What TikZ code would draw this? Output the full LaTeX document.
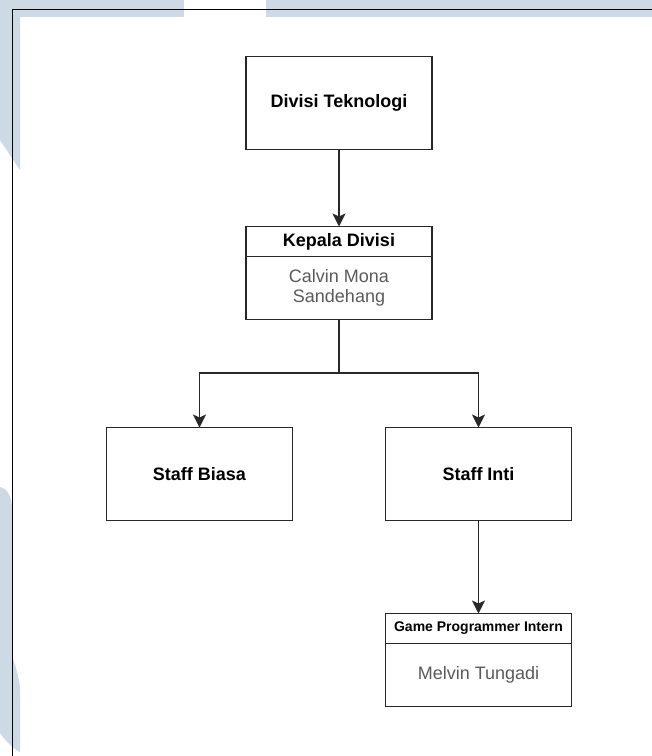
\documentclass[tikz,border=0pt]{standalone}
\usepackage{fontspec}
\setmainfont{Liberation Sans}
\usetikzlibrary{arrows.meta,positioning}
\definecolor{wmblue}{RGB}{205,217,228}
\definecolor{linegray}{RGB}{40,40,40}
\definecolor{namegray}{RGB}{90,90,90}
\tikzset{box/.style={draw=linegray, line width=1.8pt, outer sep=0pt, minimum width=186pt, minimum height=93pt, align=center, inner sep=2pt, font=\fontsize{18}{21}\selectfont\bfseries}, hbox/.style={draw=linegray, line width=1.8pt, outer sep=0pt, minimum width=186pt, minimum height=30pt, align=center, inner sep=1pt, font=\fontsize{18}{21}\selectfont\bfseries}, nbox/.style={draw=linegray, line width=1.8pt, outer sep=0pt, minimum width=186pt, minimum height=63pt, align=center, inner sep=1pt, text=namegray, font=\fontsize{18}{20.5}\selectfont}, edge/.style={-{Stealth[length=13pt,width=13pt,inset=3pt]}, line width=1.8pt, draw=linegray}}

\begin{document}
\begin{tikzpicture}[x=1pt,y=-1pt]
\useasboundingbox (0,0) rectangle (652,756);
% watermark
\fill[wmblue] (0,0) rectangle (184,17);
\fill[wmblue] (266,0) rectangle (652,17);
\fill[wmblue] (0,0) -- (20,0) -- (20,170) -- (0,140) -- cycle;
\fill[wmblue] (0,487) .. controls (8,489) and (12,497) .. (12,510) -- (12,655) .. controls (16,668) and (20,680) .. (20,690) -- (20,752) .. controls (12,748) and (5,740) .. (0,733) -- cycle;
% frame
\draw[line width=1pt] (652,9.5) -- (12.5,9.5) -- (12.5,756);
% boxes
\node[box] (divisi) at (339,103) {Divisi Teknologi};
\node[hbox,below=77pt of divisi] (kepala) {Kepala Divisi};
\node[nbox,below=0pt of kepala] (kepalanama) {Calvin Mona\\Sandehang};
\node[box] (biasa) at (199.5,474) {Staff Biasa};
\node[box,right=93pt of biasa] (inti) {Staff Inti};
\node[hbox,below=93pt of inti,font=\fontsize{14}{16}\selectfont\bfseries] (game) {Game Programmer Intern};
\node[nbox,below=0pt of game] (gamenama) {Melvin Tungadi};
% arrows
\draw[edge] (divisi) -- (kepala);
\draw[edge] (kepalanama.south) -- ++(0,53.5) -| (biasa.north);
\draw[edge] (kepalanama.south) -- ++(0,53.5) -| (inti.north);
\draw[edge] (inti) -- (game);
\end{tikzpicture}
\end{document}
